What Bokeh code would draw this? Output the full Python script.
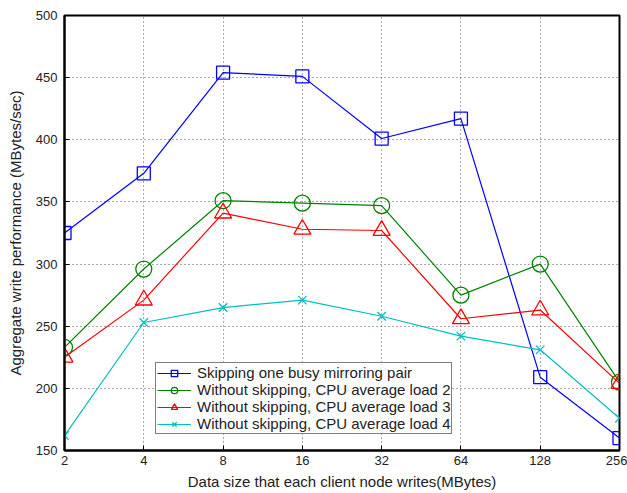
from bokeh.plotting import figure
from bokeh.models import FixedTicker, Legend, LegendItem, Range1d
from bokeh.embed import file_html
from bokeh.resources import INLINE

sizes = [2, 4, 8, 16, 32, 64, 128, 256]
skip_busy = [325, 373, 454, 451, 401, 417, 209, 160]
load2 = [233, 296, 351, 349, 347, 275, 300, 205]
load3 = [225, 271, 341, 328, 327, 256, 263, 204]
load4 = [162, 253, 265, 271, 258, 242, 231, 176]
y_ticks = [150, 200, 250, 300, 350, 400, 450, 500]
labels = ["Skipping one busy mirroring pair",
          "Without skipping, CPU average load 2",
          "Without skipping, CPU average load 3",
          "Without skipping, CPU average load 4"]

FONT = "Liberation Sans"

p = figure(width=627, height=493, output_backend="svg", toolbar_location=None,
           x_axis_type="log", x_range=Range1d(2, 256), y_range=Range1d(150, 500),
           min_border_left=64, min_border_right=8, min_border_top=15, min_border_bottom=43)

p.outline_line_color = "black"
p.outline_line_width = 2

for ax in p.xaxis:
    ax.ticker = FixedTicker(ticks=sizes)
    ax.major_label_overrides = {s: str(s) for s in sizes}
    ax.axis_label = "Data size that each client node writes(MBytes)"
    ax.major_label_standoff = 5
    ax.axis_label_standoff = 5
for ax in p.yaxis:
    ax.ticker = FixedTicker(ticks=y_ticks)
    ax.axis_label = "Aggregate write performance (MBytes/sec)"
    ax.major_label_standoff = 7
    ax.axis_label_standoff = 9
for ax in list(p.xaxis) + list(p.yaxis):
    ax.axis_line_width = 2
    ax.axis_line_color = "black"
    ax.major_tick_in = 5
    ax.major_tick_out = 0
    ax.minor_tick_line_color = None
    ax.major_label_text_font = FONT
    ax.major_label_text_font_size = "13px"
    ax.major_label_text_color = "#222222"
    ax.axis_label_text_font = FONT
    ax.axis_label_text_font_size = "15px"
    ax.axis_label_text_font_style = "normal"
    ax.axis_label_text_color = "#222222"

p.grid.grid_line_color = "#555555"
p.grid.grid_line_dash = "1 3"
p.grid.grid_line_width = 1
p.xgrid.ticker = FixedTicker(ticks=sizes)
p.ygrid.ticker = FixedTicker(ticks=y_ticks)

series = [skip_busy, load2, load3, load4]
colors = ["#0000ff", "#008000", "#ff0000", "#00bfbf"]
markers = ["square", "circle", "triangle", "x"]
msizes = [13, 16, 17, 12]

items = []
for vals, c, m, ms, lab in zip(series, colors, markers, msizes, labels):
    ln = p.line(sizes, vals, line_color=c, line_width=1.2)
    sc = p.scatter(sizes, vals, marker=m, size=ms, line_color=c, fill_alpha=0, line_width=1.3)
    items.append(LegendItem(label=lab, renderers=[ln, sc]))

leg = Legend(items=items, location=(91, 16))
leg.label_text_font = FONT
leg.label_text_font_size = "15px"
leg.label_text_color = "#222222"
leg.label_height = 15
leg.glyph_height = 16
leg.glyph_width = 34
leg.spacing = 0
leg.padding = 1
leg.margin = 0
leg.label_standoff = 6
leg.border_line_color = "black"
leg.border_line_width = 1.5
leg.background_fill_alpha = 1
p.add_layout(leg, "center")

open("out.html", "w").write(file_html(p, INLINE))
